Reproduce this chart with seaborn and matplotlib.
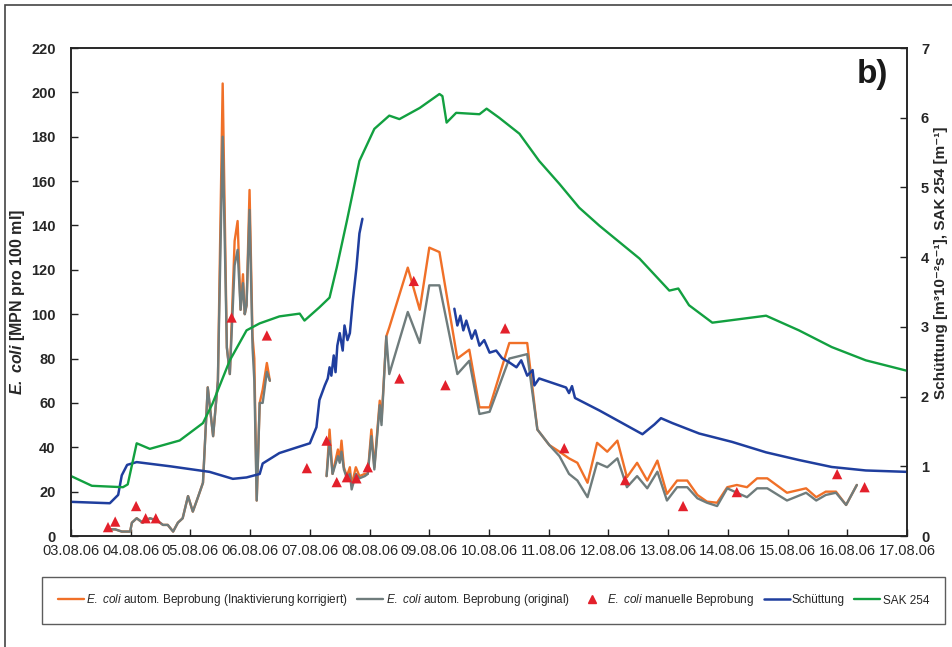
import numpy as np
import pandas as pd
import matplotlib
matplotlib.use("Agg")
import matplotlib.pyplot as plt
import seaborn as sns
from matplotlib.lines import Line2D
from matplotlib.patches import Rectangle

# ---------------- data ----------------
date_labels = ["03.08.06", "04.08.06", "05.08.06", "06.08.06", "07.08.06", "08.08.06",
               "09.08.06", "10.08.06", "11.08.06", "12.08.06", "13.08.06", "14.08.06",
               "15.08.06", "16.08.06", "17.08.06"]

# E. coli automatic sampling (days since 03.08.06 00:00); NaN = gap
ecoli_t = [0.62, 0.74, 0.85, 0.99, 1.02, 1.10, 1.20, 1.32, 1.44, 1.54, 1.62, 1.71, 1.79, 1.87,
           1.96, 2.04, 2.12, 2.21, 2.29, 2.38, 2.46, 2.54, 2.61, 2.66, 2.74, 2.79, 2.84, 2.88,
           2.91, 2.94, 2.99, 3.04, 3.07, 3.11, 3.16, 3.21, 3.28, 3.33,
           np.nan,
           4.28, 4.33, 4.38, 4.47, 4.50, 4.53, 4.57, 4.62, 4.67, 4.70, 4.77, 4.83, 4.92, 4.97,
           5.03, 5.08, 5.17, 5.20, 5.28, 5.33, 5.64, 5.84, 6.00, 6.17, 6.47, 6.67, 6.84, 7.01,
           7.34, 7.64, 7.81, 8.01, 8.18, 8.34, 8.48, 8.65, 8.81, 8.98, 9.15, 9.31, 9.48, 9.65,
           9.82, 9.98, 10.15, 10.32, 10.49, 10.65, 10.82, 10.99, 11.15, 11.32, 11.49, 11.66,
           11.99, 12.31, 12.48, 12.64, 12.81, 12.98, 13.16]
ecoli_korrigiert = [3, 3, 2, 2, 6, 8, 6, 8, 7, 5, 5, 2, 6, 8,
                    18, 11, 17, 24, 67, 45, 70, 204, 85, 73, 133, 142, 102, 118,
                    100, 104, 156, 90, 80, 16, 60, 66, 78, 70,
                    np.nan,
                    27, 48, 28, 39, 34, 43, 31, 27, 31, 23, 31, 27, 28, 28,
                    48, 31, 61, 52, 90, 94, 121, 102, 130, 128, 80, 84, 58, 58,
                    87, 87, 48, 41, 38, 35, 33, 24, 42, 38, 43, 26.5, 33, 25,
                    34, 19, 25, 25, 18.5, 15.5, 15, 22, 23, 22, 26, 26,
                    19.5, 21.5, 17.5, 20, 20, 14, 23]
ecoli_original = [3, 3, 2, 2, 6, 8, 6, 8, 7, 5, 5, 2, 6, 8,
                  18, 11, 17, 24, 67, 45, 70, 180, 85, 73, 122, 129, 102, 114,
                  100, 104, 147, 85, 70, 16, 60, 60, 74, 70,
                  np.nan,
                  27, 43, 28, 36, 33, 38, 30, 26, 28, 21, 28, 26, 27, 28,
                  45, 30, 59, 50, 90, 73, 101, 87, 113, 113, 73, 79, 55, 56,
                  80, 82, 48, 41, 36, 28, 25, 17.5, 33, 31, 35, 22, 27, 21.5,
                  29, 16, 22, 22, 17, 15, 13.5, 21.5, 19.5, 17.5, 21.5, 21.5,
                  16, 19.5, 16, 18.5, 19.5, 14, 23]

# E. coli manual sampling
manuell_t = [0.62, 0.74, 1.09, 1.25, 1.42, 2.69, 3.28, 3.95, 4.28, 4.45, 4.62, 4.78, 4.97,
             5.50, 5.74, 6.27, 7.27, 8.26, 9.28, 10.25, 11.15, 12.83, 13.29]
manuell_v = [4, 6.5, 13.5, 8, 8, 98.5, 90.4, 30.6, 43, 24.3, 26.5, 26, 31,
             71, 115, 68, 93.6, 39.6, 25.2, 13.5, 19.8, 27.9, 22]

# Schüttung (right axis); NaN = gap
schuettung_t = [0, 0.65, 0.79, 0.85, 0.94, 1.10, 1.66, 2.32, 2.71, 2.94, 3.16, 3.21, 3.49, 3.78,
                4.00, 4.11, 4.16, 4.25, 4.30, 4.33, 4.36, 4.40, 4.43, 4.46, 4.50, 4.55, 4.58,
                4.63, 4.67, 4.72, 4.78, 4.83, 4.88,
                np.nan,
                6.42, 6.47, 6.52, 6.57, 6.62, 6.71, 6.77, 6.84, 6.92, 7.01, 7.12, 7.22, 7.34,
                7.46, 7.54, 7.64, 7.73, 7.76, 7.84, 8.29, 8.34, 8.39, 8.44, 8.85, 9.57, 9.77,
                9.88, 10.07, 10.52, 11.07, 11.64, 12.19, 12.74, 13.31, 14.0]
schuettung_v = [0.49, 0.47, 0.59, 0.87, 1.02, 1.06, 1.00, 0.92, 0.82, 0.84, 0.89, 1.04, 1.19, 1.27,
                1.33, 1.56, 1.95, 2.16, 2.26, 2.42, 2.30, 2.59, 2.35, 2.73, 2.91, 2.66, 3.02,
                2.81, 2.91, 3.38, 3.85, 4.34, 4.55,
                np.nan,
                3.26, 3.02, 3.16, 2.95, 3.09, 2.83, 2.95, 2.73, 2.81, 2.63, 2.66, 2.55, 2.49,
                2.42, 2.52, 2.30, 2.38, 2.16, 2.26, 2.13, 2.05, 2.15, 1.98, 1.80, 1.46, 1.60,
                1.69, 1.62, 1.47, 1.35, 1.20, 1.09, 0.99, 0.94, 0.92]

# SAK 254 (right axis)
sak_t = [0, 0.35, 0.87, 0.95, 1.10, 1.32, 1.82, 2.21, 2.37, 2.66, 2.94, 3.16, 3.49, 3.83, 3.91,
         4.16, 4.33, 4.45, 4.62, 4.83, 5.08, 5.33, 5.50, 5.84, 6.17, 6.22, 6.29, 6.45, 6.84,
         6.96, 7.17, 7.51, 7.84, 8.18, 8.51, 8.85, 9.52, 10.02, 10.17, 10.35, 10.74, 11.64,
         12.19, 12.74, 13.31, 14.0]
sak_v = [0.86, 0.72, 0.70, 0.74, 1.33, 1.25, 1.37, 1.62, 1.90, 2.52, 2.95, 3.05, 3.15, 3.19, 3.09,
         3.28, 3.42, 3.85, 4.52, 5.38, 5.84, 6.03, 5.98, 6.14, 6.34, 6.31, 5.93, 6.07, 6.05,
         6.13, 6.00, 5.77, 5.38, 5.05, 4.71, 4.45, 3.98, 3.52, 3.55, 3.31, 3.06, 3.16,
         2.95, 2.71, 2.52, 2.37]

# ---------------- style ----------------
C_OR = "#F07028"
C_GR = "#6F7C7C"
C_BL = "#1F3E9E"
C_GN = "#12A040"
C_RD = "#E3202B"
C_TX = "#262626"

sns.set_style("white")
plt.rcParams["font.family"] = ["Liberation Sans", "DejaVu Sans"]
plt.rcParams["mathtext.fontset"] = "custom"
plt.rcParams["mathtext.rm"] = "Liberation Sans"
plt.rcParams["mathtext.it"] = "Liberation Sans:italic"
plt.rcParams["mathtext.bf"] = "Liberation Sans:bold"
plt.rcParams["mathtext.bfit"] = "Liberation Sans:italic:bold"


def segments(t, v):
    t = np.asarray(t, float)
    v = np.asarray(v, float)
    seg = np.cumsum(np.isnan(t))
    df = pd.DataFrame({"t": t, "v": v, "seg": seg})
    return df.dropna()


fig = plt.figure(figsize=(9.52, 6.47), dpi=100)
W, H = 952, 647
ax = fig.add_axes([71 / W, 1 - 536 / H, (907 - 71) / W, (536 - 48) / H])
ax2 = ax.twinx()

df_k = segments(ecoli_t, ecoli_korrigiert)
df_o = segments(ecoli_t, ecoli_original)
sns.lineplot(data=df_k, x="t", y="v", units="seg", estimator=None, sort=False,
             color=C_OR, lw=1.7, ax=ax)
sns.lineplot(data=df_o, x="t", y="v", units="seg", estimator=None, sort=False,
             color=C_GR, lw=1.7, ax=ax)
sns.scatterplot(x=manuell_t, y=manuell_v, marker="^", color=C_RD, s=55,
                edgecolor="none", ax=ax, zorder=5)

df_q = segments(schuettung_t, schuettung_v)
df_s = segments(sak_t, sak_v)
sns.lineplot(data=df_q, x="t", y="v", units="seg", estimator=None, sort=False,
             color=C_BL, lw=1.8, ax=ax2)
sns.lineplot(data=df_s, x="t", y="v", units="seg", estimator=None, sort=False,
             color=C_GN, lw=1.7, ax=ax2)

ax.set_xlim(0, 14)
ax.set_ylim(0, 220)
ax2.set_ylim(0, 7)
ax.set_xticks(range(len(date_labels)))
ax.set_xticklabels(date_labels)
ax.set_yticks(range(0, 221, 20))
ax2.set_yticks(range(0, 8))

for a in (ax, ax2):
    for sp in a.spines.values():
        sp.set_color("#222222")
        sp.set_linewidth(1.1)
        sp.set_visible(True)

ax.tick_params(axis="x", direction="in", length=5, width=1, colors="#222222",
               labelsize=10.5, labelcolor=C_TX, pad=6, bottom=True, top=False)
ax.tick_params(axis="y", direction="in", length=5, width=1, colors="#222222",
               labelsize=10.5, labelcolor=C_TX, pad=11, left=True, right=False)
ax2.tick_params(axis="y", direction="in", length=5, width=1, colors="#222222",
                labelsize=10.5, labelcolor=C_TX, pad=10, right=True, left=False)
for lab in ax.get_yticklabels() + ax2.get_yticklabels():
    lab.set_fontweight("bold")

ax.set_xlabel("")
ax.set_ylabel(r"$\mathbfit{E.}$ $\mathbfit{coli}$ [MPN pro 100 ml]", fontsize=11.5,
              fontweight="bold", color=C_TX)
ax.yaxis.set_label_coords(-0.053, 0.48)
ax2.set_ylabel("Schüttung [m³10⁻²s⁻¹], SAK 254 [m⁻¹]", fontsize=11,
               fontweight="bold", color=C_TX, rotation=90)
ax2.yaxis.set_label_coords(1.032, 0.56)

ax.text(0.978, 0.945, "b)", transform=ax.transAxes, ha="right", va="center",
        fontsize=24, fontweight="bold", color="#1a1a1a")

# outer frame
fig.add_artist(Rectangle((5 / W, -0.2), 2, 1.2 - 5 / H, transform=fig.transFigure,
                         fill=False, lw=1.2, ec="#444444"))

handles = [Line2D([], [], color=C_OR, lw=1.7),
           Line2D([], [], color=C_GR, lw=1.7),
           Line2D([], [], ls="none", marker="^", color=C_RD, markersize=6),
           Line2D([], [], color=C_BL, lw=1.8),
           Line2D([], [], color=C_GN, lw=1.7)]
labels = [r"$\mathit{E.}$ $\mathit{coli}$ autom. Beprobung (Inaktivierung korrigiert)",
          r"$\mathit{E.}$ $\mathit{coli}$ autom. Beprobung (original)",
          r"$\mathit{E.}$ $\mathit{coli}$ manuelle Beprobung",
          "Schüttung",
          "SAK 254"]
leg = fig.legend(handles, labels, loc="center",
                 bbox_to_anchor=(42 / W, 1 - 623 / H, (945 - 42) / W, 45 / H),
                 mode="expand", ncol=5, frameon=True, fancybox=False,
                 edgecolor="#333333", fontsize=8.5, handlelength=2.2,
                 handletextpad=0.2, columnspacing=0.6, borderaxespad=0,
                 borderpad=1.35)
leg.get_frame().set_linewidth(1.0)
for t in leg.get_texts():
    t.set_color(C_TX)

fig.savefig("out.png", dpi=100)
